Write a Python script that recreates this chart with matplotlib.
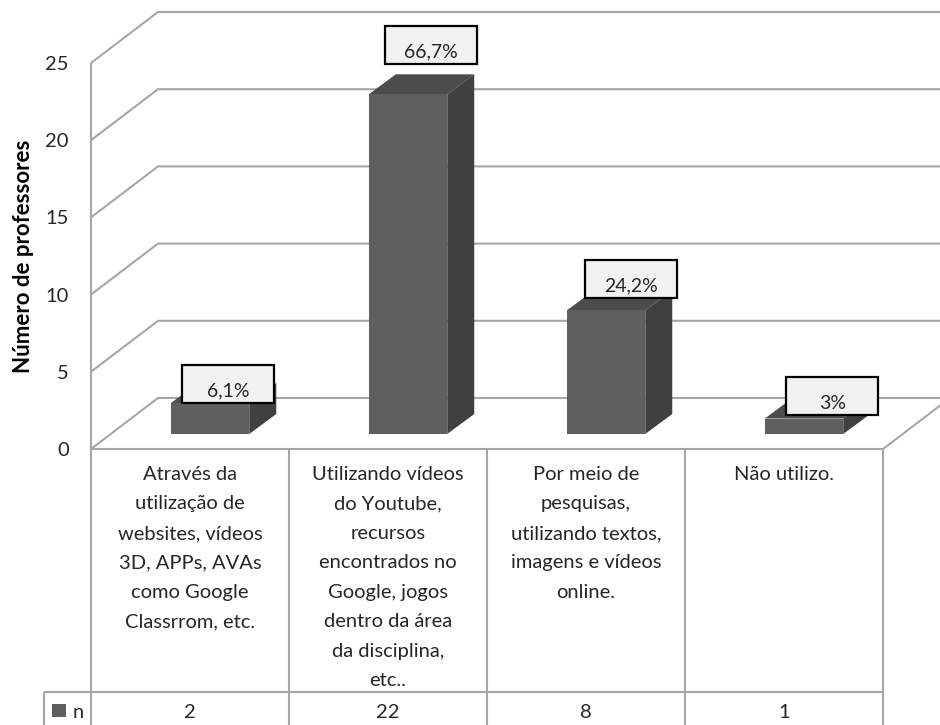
import matplotlib
matplotlib.use("Agg")
import matplotlib.pyplot as plt
from matplotlib.patches import Polygon, Rectangle

categories = [
    "Através da\nutilização de\nwebsites, vídeos\n3D, APPs, AVAs\ncomo Google\nClassrrom, etc.",
    "Utilizando vídeos\ndo Youtube,\nrecursos\nencontrados no\nGoogle, jogos\ndentro da área\nda disciplina,\netc..",
    "Por meio de\npesquisas,\nutilizando textos,\nimagens e vídeos\nonline.",
    "Não utilizo.",
]
values = [2, 22, 8, 1]
percent_labels = ["6,1%", "66,7%", "24,2%", "3%"]
y_ticks = [0, 5, 10, 15, 20, 25]
series_name = "n"
y_title = "Número de professores"

W, H = 940, 725
L, R, B, T = 91.0, 883.0, 449.0, 63.0
FONT = "Lato"
GRID = "#a6a6a6"
TXT = "#262626"

fig = plt.figure(figsize=(W / 100, H / 100), dpi=100, facecolor="white")
ax = fig.add_axes([L / W, 1 - B / H, (R - L) / W, (B - T) / H])
ax.set_xlim(0, 4)
ax.set_ylim(0, 25)
for s in ax.spines.values():
    s.set_visible(False)
ax.patch.set_alpha(0)

ux = (R - L) / 4     # pixels per category
uy = (B - T) / 25    # pixels per value unit


def dx(px):
    return px / ux


def dy(px):
    return px / uy


ax.set_xticks([])
ax.set_yticks(y_ticks)
ax.tick_params(axis="y", length=0, pad=16, labelsize=14.5, labelcolor=TXT)
for t in ax.get_yticklabels():
    t.set_family(FONT)

line = dict(color=GRID, lw=1.5, clip_on=False, solid_capstyle="butt", zorder=1)
wall_x, wall_y = dx(67), dy(51)

# wall lines and floor
for v in y_ticks:
    ax.plot([0, wall_x, 4 + wall_x], [v, v + wall_y, v + wall_y], **line)
ax.plot([4, 4 + wall_x], [0, wall_y], **line)
ax.plot([0, 0], [0, 25], **line)

# table lines
tbl_bottom = dy(-(H + 2 - B))
row_y = dy(-(692 - B))
for i in range(5):
    ax.plot([i, i], [0, tbl_bottom], **line)
ax.plot([0, 4], [0, 0], **line)
ax.plot([dx(44 - L), 4], [row_y, row_y], **line)
ax.plot([dx(44 - L)] * 2, [row_y, tbl_bottom], **line)

# 3D bars
bar_w = dx(78.5)
bar_shift = dx(20) + 0.5 - bar_w / 2
base = dy(15)
depth_x, depth_y = dx(27), dy(20)
positions = [i + bar_shift for i in range(len(values))]
ax.bar(positions, values, width=bar_w, bottom=base, align="edge",
       color="#5f5f5f", edgecolor="none", zorder=4, clip_on=False)
for x0, v in zip(positions, values):
    top = base + v
    x1 = x0 + bar_w
    ax.add_patch(Polygon([(x0, top), (x1, top), (x1 + depth_x, top + depth_y),
                          (x0 + depth_x, top + depth_y)],
                         closed=True, fc="#4c4c4c", ec="none", zorder=3, clip_on=False))
    ax.add_patch(Polygon([(x1, base), (x1 + depth_x, base + depth_y),
                          (x1 + depth_x, top + depth_y), (x1, top)],
                         closed=True, fc="#404040", ec="none", zorder=3, clip_on=False))

# data label boxes, offset from the bar's top-left corner in pixels
box_offsets = [(11, 0.5), (16.5, 30.5), (18.5, 12.5), (21.5, 3.5)]
box_w, box_h = dx(92), dy(38)
for x0, v, lab, (ox, oy) in zip(positions, values, percent_labels, box_offsets):
    bx = x0 + dx(ox)
    by = base + v + dy(oy)
    ax.add_patch(Rectangle((bx, by), box_w, box_h, fc="#f2f2f2", ec="black",
                           lw=1.6, zorder=6, clip_on=False))
    ax.text(bx + box_w / 2, by + box_h / 2 - dy(7), lab, ha="center", va="center",
            family=FONT, fontsize=14, color=TXT, zorder=7)

# table text
for i, (c, v) in enumerate(zip(categories, values)):
    ax.text(i + 0.5, dy(-(466 - B)), c, ha="center", va="top", family=FONT,
            fontsize=14.5, color=TXT, linespacing=1.89, clip_on=False)
    ax.text(i + 0.5, dy(-(713 - B)), str(v), ha="center", va="center", family=FONT,
            fontsize=14.5, color=TXT, clip_on=False)

# legend key in table
ax.add_patch(Rectangle((dx(52 - L), dy(-(717 - B))), dx(14), dy(13), fc="#5f5f5f",
                       ec="none", clip_on=False))
ax.text(dx(78 - L), dy(-(712 - B)), series_name, ha="center", va="center", family=FONT,
        fontsize=14.5, color=TXT, clip_on=False)

# axis title
ax.text(dx(24 - L), dy(-(256 - B)), y_title, rotation=90, ha="center", va="center",
        family=FONT, fontsize=16, fontweight="bold", color="black", clip_on=False)

fig.savefig("out.png", dpi=100)
